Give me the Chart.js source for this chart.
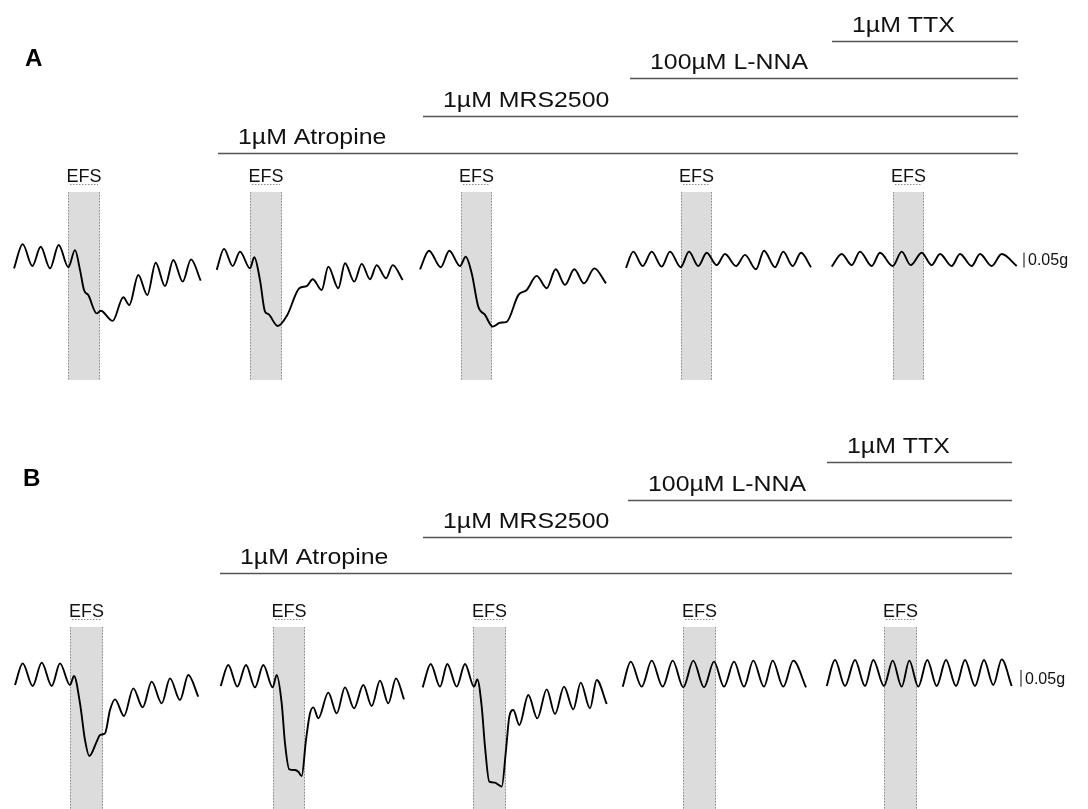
<!DOCTYPE html>
<html>
<head>
<meta charset="utf-8">
<script src="https://cdn.jsdelivr.net/npm/chart.js@4"></script>
<style>
  html, body { margin: 0; padding: 0; background: #fff; }
  body { width: 1088px; height: 809px; position: relative; overflow: hidden; }
  canvas { position: absolute; left: 0; }
  #panel-a { top: 0; }
  #panel-b { top: 421px; }
</style>
</head>
<body>
<canvas id="panel-a" width="1088" height="400"></canvas>
<canvas id="panel-b" width="1088" height="388"></canvas>
<script>
// Drugs added cumulatively (start time of each wash-in, bars run to the end)
const drugNames = ['1µM Atropine', '1µM MRS2500', '100µM L-NNA', '1µM TTX'];
const drugStartA = [218, 423, 630, 832];
const drugEndA = 1018;
const drugStartB = [220, 423, 628, 827];
const drugEndB = 1012;

// EFS stimulation windows [start, end] for each recording
const efsA = [[68, 100], [250, 282], [461, 492], [681, 712], [893, 924]];
const efsB = [[70, 103], [273, 305], [473, 506], [683, 716], [884, 917]];

// Calibration bar (0.05 g = 50 mg)
const scaleBarMg = 50;
const scaleBarTimeA = 1024;
const scaleBarBaseA = -25;
const scaleBarTimeB = 1021;
const scaleBarBaseB = -35;

// Panel A traces: [time, tension (mg)]
const traceA1 = [[14, -28], [22.7, 53], [32.3, -20], [40.7, 44], [50, -28], [58.7, 50], [68.3, -24], [75, 33],
  [80, -33], [84, -100], [88.3, -117], [96.7, -178], [100.7, -169], [112.7, -203], [123.3, -124], [129.3, -150],
  [138.3, -50], [147.3, -117], [155.7, -9], [165, -87], [173.3, 0], [182.7, -72], [191, 2], [200.7, -69]];
const traceA2 = [[216.7, -33], [224, 37], [232.7, -20], [240, 28], [250, -28], [254.3, 9], [260, -67], [265, -172],
  [268.3, -180], [277.7, -220], [287.3, -183], [299.3, -94], [306.7, -87], [312.7, -64], [321.7, -100], [328.3, -22],
  [338.3, -94], [345, -11], [354.3, -72], [361.7, -13], [370, -64], [376.7, -17], [386, -61], [392.7, -17], [402.7, -67]];
const traceA3 = [[420, -31], [429, 31], [440.7, -24], [449.3, 31], [460, -20], [465.7, 11], [471.7, -44], [478.3, -156],
  [485, -183], [492.7, -222], [500, -209], [506.7, -206], [518.3, -117], [526.7, -100], [536.7, -53], [546.7, -94],
  [555.7, -31], [565, -83], [574.3, -31], [584, -78], [594.3, -28], [606, -78]];
const traceA4 = [[626, -26], [633.3, 28], [642.7, -20], [651.7, 28], [661.7, -22], [670, 28], [680.7, -24], [689, 28],
  [698.3, -20], [706.7, 24], [716.7, -17], [725, 20], [736, -20], [745, 17], [756, -31], [764, 31], [775, -24],
  [783.3, 28], [792.7, -20], [801, 24], [811, -24]];
const traceA5 = [[831.7, -22], [841.7, 20], [851.7, -17], [860, 28], [871.7, -20], [880, 24], [892.7, -20], [901.7, 28],
  [910.7, -17], [921.7, 24], [931.7, -17], [940, 20], [951.7, -20], [960, 20], [971.7, -20], [980, 20], [991.7, -20],
  [1001.7, 20], [1016.7, -20]];

// Panel B traces: [time, tension (mg)]
const traceB1 = [[15, -30], [22.7, 35], [32.7, -33], [41.7, 37], [51.7, -33], [60, 35], [70, -30], [74, -3], [80, -85],
  [85, -195], [89.3, -243], [96.7, -200], [100, -180], [105, -175], [110, -105], [115, -73], [124, -123], [133.3, -40],
  [142.7, -97], [151.7, -20], [161.7, -85], [170, -10], [180, -75], [188.3, 0], [198.3, -65]];
const traceB2 = [[220.7, -33], [228.3, 30], [237.3, -35], [246, 30], [255, -37], [263.3, 30], [272.7, -37], [276.7, 0],
  [281.7, -85], [285, -205], [289.3, -283], [295, -285], [298.3, -290], [301.7, -303], [306, -195], [310, -115],
  [313.3, -97], [318.3, -130], [328.3, -53], [336.7, -115], [345, -37], [354, -100], [363.3, -30], [371.7, -93],
  [380, -17], [388.3, -85], [396, -10], [404, -73]];
const traceB3 = [[422.7, -37], [430.7, 33], [440, -35], [447.3, 33], [456.7, -35], [465, 33], [474, -35], [477.3, -13],
  [481.7, -95], [485, -215], [489.3, -320], [495, -323], [497.3, -327], [501.7, -335], [506, -225], [509.3, -125],
  [513.3, -105], [519.3, -150], [528.3, -60], [537.3, -130], [546.7, -43], [555, -117], [564, -35], [573.3, -103],
  [580.7, -23], [590, -100], [596.7, -15], [606.7, -87]];
const traceB4 = [[622.7, -35], [630.7, 40], [641.7, -35], [651.7, 43], [662.7, -35], [672.7, 43], [683.3, -37], [693.3, 43],
  [704, -37], [714, 40], [724, -35], [734, 40], [744, -35], [753.3, 43], [764, -35], [772.7, 43], [783.3, -35],
  [793.3, 43], [806, -37]];
const traceB5 = [[826.7, -33], [835, 45], [845, -33], [855, 45], [865, -33], [873.3, 45], [884, -33], [892.7, 43],
  [901.7, -35], [909.3, 43], [918.3, -35], [927.3, 45], [936.7, -33], [946, 45], [956, -33], [965, 45], [975, -33],
  [984, 45], [993.3, -30], [1001.7, 47], [1011.7, -33]];

const FONT = '"Liberation Sans", Arial, sans-serif';

// Draws EFS bands, drug bars, their labels and the calibration text
const panelDecor = {
  id: 'panelDecor',
  beforeDatasetsDraw(chart, args, opts) {
    const ctx = chart.ctx;
    const xs = chart.scales.x;
    ctx.save();
    opts.efs.forEach(([t0, t1]) => {
      const x0 = xs.getPixelForValue(t0);
      const x1 = xs.getPixelForValue(t1);
      ctx.fillStyle = '#dcdcdc';
      ctx.fillRect(x0, opts.bandTop, x1 - x0, opts.bandBottom - opts.bandTop);
      ctx.strokeStyle = '#8c8c8c';
      ctx.lineWidth = 1;
      ctx.setLineDash([1.5, 1.5]);
      ctx.beginPath();
      ctx.moveTo(Math.round(x0) + 0.5, opts.bandTop);
      ctx.lineTo(Math.round(x0) + 0.5, opts.bandBottom);
      ctx.moveTo(Math.round(x1) - 0.5, opts.bandTop);
      ctx.lineTo(Math.round(x1) - 0.5, opts.bandBottom);
      // dashed underline under the EFS label
      ctx.moveTo(x0 + 2, opts.bandTop - 7.5);
      ctx.lineTo(x1 - 2, opts.bandTop - 7.5);
      ctx.stroke();
      ctx.setLineDash([]);
      ctx.fillStyle = '#111';
      ctx.font = '18px ' + FONT;
      ctx.textAlign = 'center';
      ctx.textBaseline = 'alphabetic';
      ctx.fillText('EFS', (x0 + x1) / 2, opts.bandTop - 10);
    });
    ctx.restore();
  },
  afterDatasetsDraw(chart, args, opts) {
    const ctx = chart.ctx;
    const xs = chart.scales.x;
    const ys = chart.scales.y;
    ctx.save();
    // drug application bars
    ctx.strokeStyle = '#555';
    ctx.lineWidth = 1.6;
    opts.drugStart.forEach((t, i) => {
      const x0 = xs.getPixelForValue(t);
      const x1 = xs.getPixelForValue(opts.drugEnd);
      const y = opts.barY[i];
      ctx.beginPath();
      ctx.moveTo(x0, y);
      ctx.lineTo(x1, y);
      ctx.stroke();
      ctx.save();
      ctx.translate(x0 + 20, y - 10);
      ctx.scale(1.13, 1);
      ctx.fillStyle = '#111';
      ctx.font = '22px ' + FONT;
      ctx.textAlign = 'left';
      ctx.fillText(drugNames[i], 0, 0);
      ctx.restore();
    });
    // panel letter
    ctx.save();
    ctx.translate(opts.letterX, opts.letterY);
    ctx.scale(1.05, 1);
    ctx.fillStyle = '#000';
    ctx.font = 'bold 23px ' + FONT;
    ctx.fillText(opts.letter, 0, 0);
    ctx.restore();
    // calibration label
    const bx = xs.getPixelForValue(opts.barTime);
    const by = ys.getPixelForValue(opts.barBase + scaleBarMg / 2);
    ctx.fillStyle = '#111';
    ctx.font = '16px ' + FONT;
    ctx.textAlign = 'left';
    ctx.textBaseline = 'middle';
    ctx.fillText((scaleBarMg / 1000).toFixed(2) + 'g', bx + 4, by + 1);
    ctx.restore();
  }
};

function toPoints(trace) {
  return trace.map(p => ({ x: p[0], y: p[1] }));
}

function traceDataset(trace) {
  return {
    data: toPoints(trace),
    borderColor: '#000',
    borderWidth: 1.9,
    pointRadius: 0,
    cubicInterpolationMode: 'monotone',
    fill: false
  };
}

function scaleBarDataset(time, base) {
  return {
    data: [{ x: time, y: base }, { x: time, y: base + scaleBarMg }],
    borderColor: '#333',
    borderWidth: 1.2,
    pointRadius: 0,
    fill: false
  };
}

function makePanel(canvasId, traces, cfg) {
  const ctx = document.getElementById(canvasId).getContext('2d');
  return new Chart(ctx, {
    type: 'line',
    data: {
      datasets: traces.map(traceDataset).concat([scaleBarDataset(cfg.barTime, cfg.barBase)])
    },
    options: {
      responsive: false,
      animation: false,
      layout: { padding: 0 },
      scales: {
        x: { type: 'linear', min: 0, max: 1088, display: false },
        y: { type: 'linear', min: cfg.yMin, max: cfg.yMax, display: false }
      },
      plugins: {
        legend: { display: false },
        tooltip: { enabled: false },
        panelDecor: cfg
      }
    },
    plugins: [panelDecor]
  });
}

makePanel('panel-a', [traceA1, traceA2, traceA3, traceA4, traceA5], {
  letter: 'A', letterX: 25, letterY: 66,
  yMin: -466.7, yMax: 866.7,
  efs: efsA, bandTop: 192, bandBottom: 380,
  drugStart: drugStartA, drugEnd: drugEndA, barY: [153.5, 116.5, 78.5, 41.5],
  barTime: scaleBarTimeA, barBase: scaleBarBaseA
});

makePanel('panel-b', [traceB1, traceB2, traceB3, traceB4, traceB5], {
  letter: 'B', letterX: 23, letterY: 65,
  yMin: -402, yMax: 762,
  efs: efsB, bandTop: 206, bandBottom: 388,
  drugStart: drugStartB, drugEnd: drugEndB, barY: [152.5, 116.5, 79.5, 41.5],
  barTime: scaleBarTimeB, barBase: scaleBarBaseB
});
</script>
</body>
</html>
